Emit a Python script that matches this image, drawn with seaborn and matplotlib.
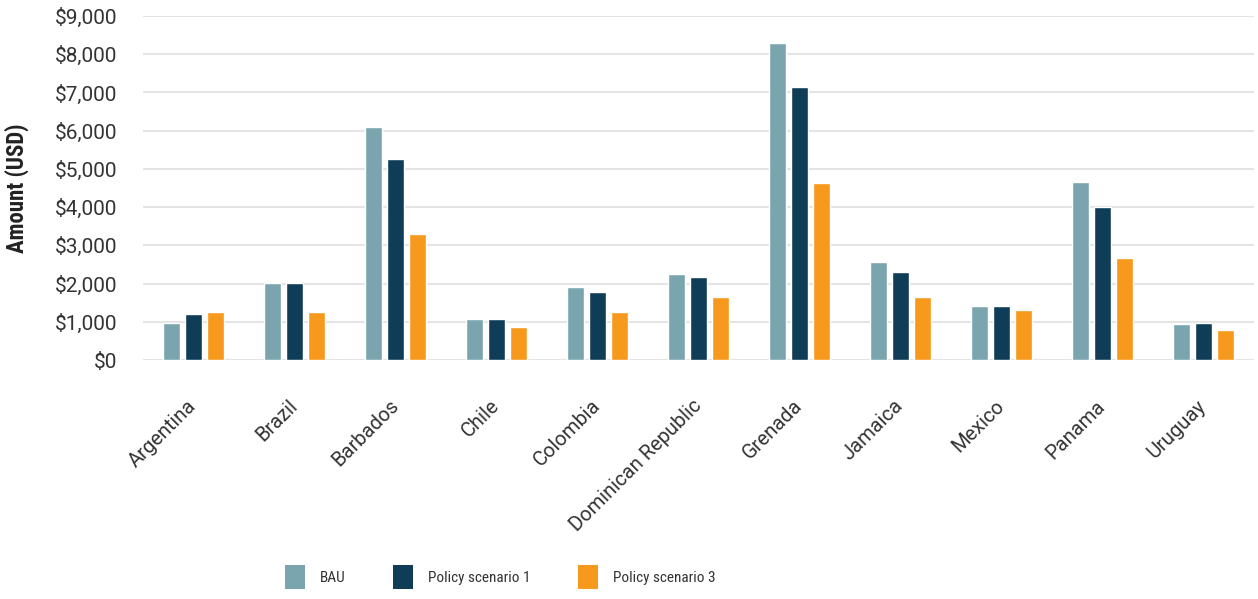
import matplotlib
matplotlib.use("Agg")
import matplotlib.pyplot as plt
from matplotlib import font_manager as fm
from matplotlib.patches import Patch
from matplotlib.ticker import FuncFormatter
import seaborn as sns
import pandas as pd

countries = ["Argentina", "Brazil", "Barbados", "Chile", "Colombia",
             "Dominican Republic", "Grenada", "Jamaica", "Mexico",
             "Panama", "Uruguay"]
scenarios = ["BAU", "Policy scenario 1", "Policy scenario 3"]
bau = [960, 2020, 6100, 1070, 1900, 2250, 8300, 2570, 1400, 4670, 930]
policy1 = [1200, 2020, 5250, 1070, 1770, 2180, 7140, 2310, 1400, 4010, 980]
policy3 = [1260, 1250, 3290, 870, 1260, 1660, 4640, 1660, 1310, 2680, 790]
colors = ["#7BA5AE", "#0F3D57", "#F7991C"]

df = pd.DataFrame({
    "country": countries * 3,
    "scenario": [s for s in scenarios for _ in countries],
    "amount": bau + policy1 + policy3,
})


def pick(*families):
    have = {f.name for f in fm.fontManager.ttflist}
    for fam in families:
        if fam in have:
            return fam
    return "DejaVu Sans"


regular = pick("Roboto", "Open Sans")
narrow = pick("Roboto Condensed", "IBM Plex Sans Condensed", "Roboto")

sns.set_theme(style="white")
plt.rcParams["font.family"] = [regular, "DejaVu Sans"]

W, H = 1258, 599
fig = plt.figure(figsize=(W / 100, H / 100), dpi=100)
ax = fig.add_axes([143 / W, 1 - 360 / H, (1254 - 143) / W, (360 - 16) / H])

sns.barplot(data=df, x="country", y="amount", hue="scenario",
            palette=colors, width=0.66, gap=0.23, ax=ax,
            legend=False, saturation=1, zorder=3)

ax.set_ylim(0, 9000)
ax.set_yticks(range(0, 9001, 1000))
ax.yaxis.set_major_formatter(FuncFormatter(lambda v, p: f"${v:,.0f}"))
ax.grid(axis="y", color="#e4e4e4", linewidth=1.5, zorder=0)
ax.set_axisbelow(True)
for s in ax.spines.values():
    s.set_visible(False)

ax.set_xlabel("")
ax.set_ylabel("Amount (USD)", fontsize=16.5, fontweight="bold",
              color="#222222", family=[narrow, "DejaVu Sans"])
ax.yaxis.set_label_coords(-0.1030, 0.5)
ax.tick_params(axis="y", labelsize=15, colors="#333333", length=0, pad=18.5)
ax.tick_params(axis="x", labelsize=14.5, colors="#333333", length=0, pad=31)
plt.setp(ax.get_xticklabels(), rotation=45, ha="right", va="center",
         rotation_mode="anchor")

handles = [Patch(facecolor=c, edgecolor="none") for c in colors]
leg = fig.legend(handles, scenarios, loc="center left",
                 bbox_to_anchor=(271 / W, 1 - 577 / H), ncol=3,
                 frameon=False, prop={"family": narrow, "size": 11},
                 handlelength=1.3, handleheight=2.1, handletextpad=1.0,
                 columnspacing=3.1, labelcolor="#333333")

fig.savefig("out.png", dpi=100, facecolor="white")
